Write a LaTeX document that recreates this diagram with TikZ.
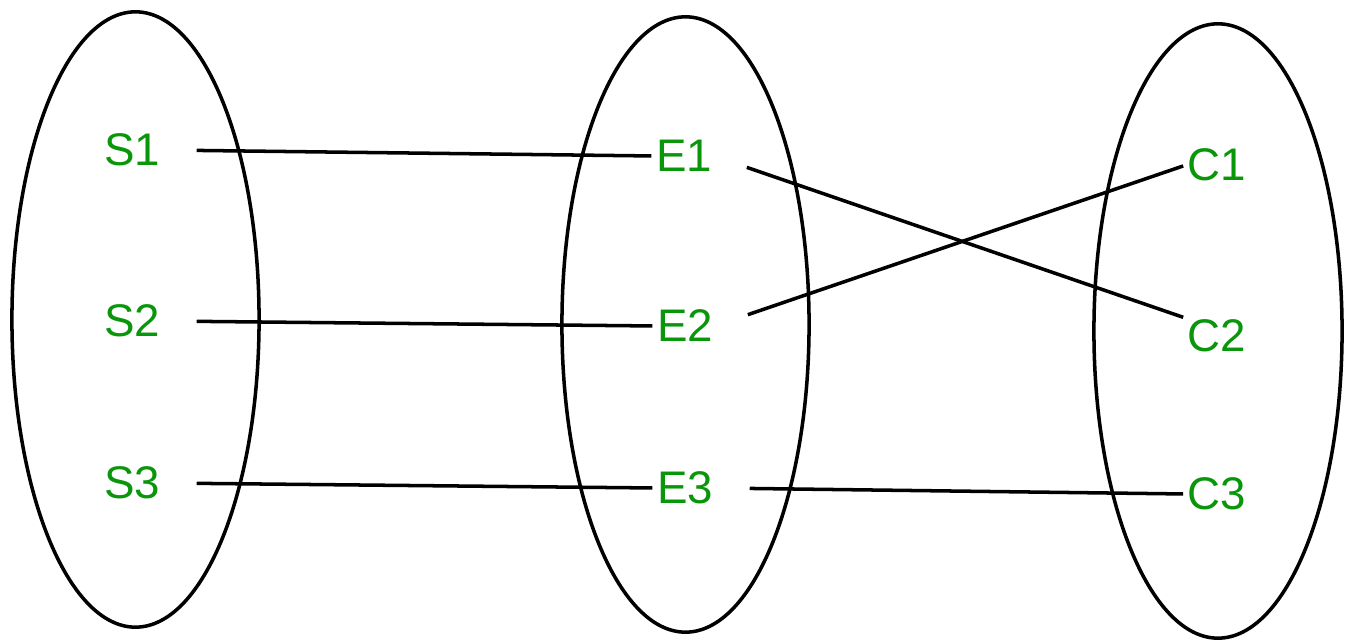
\documentclass[tikz,border=0pt]{standalone}
\usepackage{fontspec}
\setmainfont{Liberation Sans}
\usepackage{xcolor}
\usepackage{tikz}
\usetikzlibrary{calc}
\definecolor{setgreen}{RGB}{10,150,10}

\begin{document}
\begin{tikzpicture}[x=0.01cm,y=-0.01cm,line width=1pt,
    lbl/.style={text=setgreen,font=\fontsize{13}{13}\selectfont,inner sep=0pt,text depth=0pt},
    link/.style={shorten <=0.35cm,shorten >=0.03cm}]
  \useasboundingbox (0,0) rectangle (1351,640);
  % the three sets
  \draw (135.5,319.5) ellipse [x radius=1.235cm,y radius=3.075cm];
  \draw (685.5,324.5) ellipse [x radius=1.235cm,y radius=3.075cm];
  \draw (1218,331) ellipse [x radius=1.24cm,y radius=3.07cm];
  % elements
  \node[lbl] (s1) at (132,150) {S1};
  \node[lbl] (s2) at (132,321) {S2};
  \node[lbl] (s3) at (132,483) {S3};
  \node[lbl] (e1) at (684,156) {E1};
  \node[lbl] (e2) at (685,326) {E2};
  \node[lbl] (e3) at (685,488) {E3};
  \node[lbl] (c1) at (1217,165) {C1};
  \node[lbl] (c2) at (1217,336) {C2};
  \node[lbl] (c3) at (1217,494) {C3};
  % mapping
  \draw[link] (s1.east)--(e1.west);
  \draw[link] (s2.east)--(e2.west);
  \draw[link] (s3.east)--(e3.west);
  \draw[link] (e1.east)--(c2.north west);
  \draw[link] (e2.east)--(c1.west);
  \draw[link] (e3.east)--(c3.west);
\end{tikzpicture}
\end{document}
